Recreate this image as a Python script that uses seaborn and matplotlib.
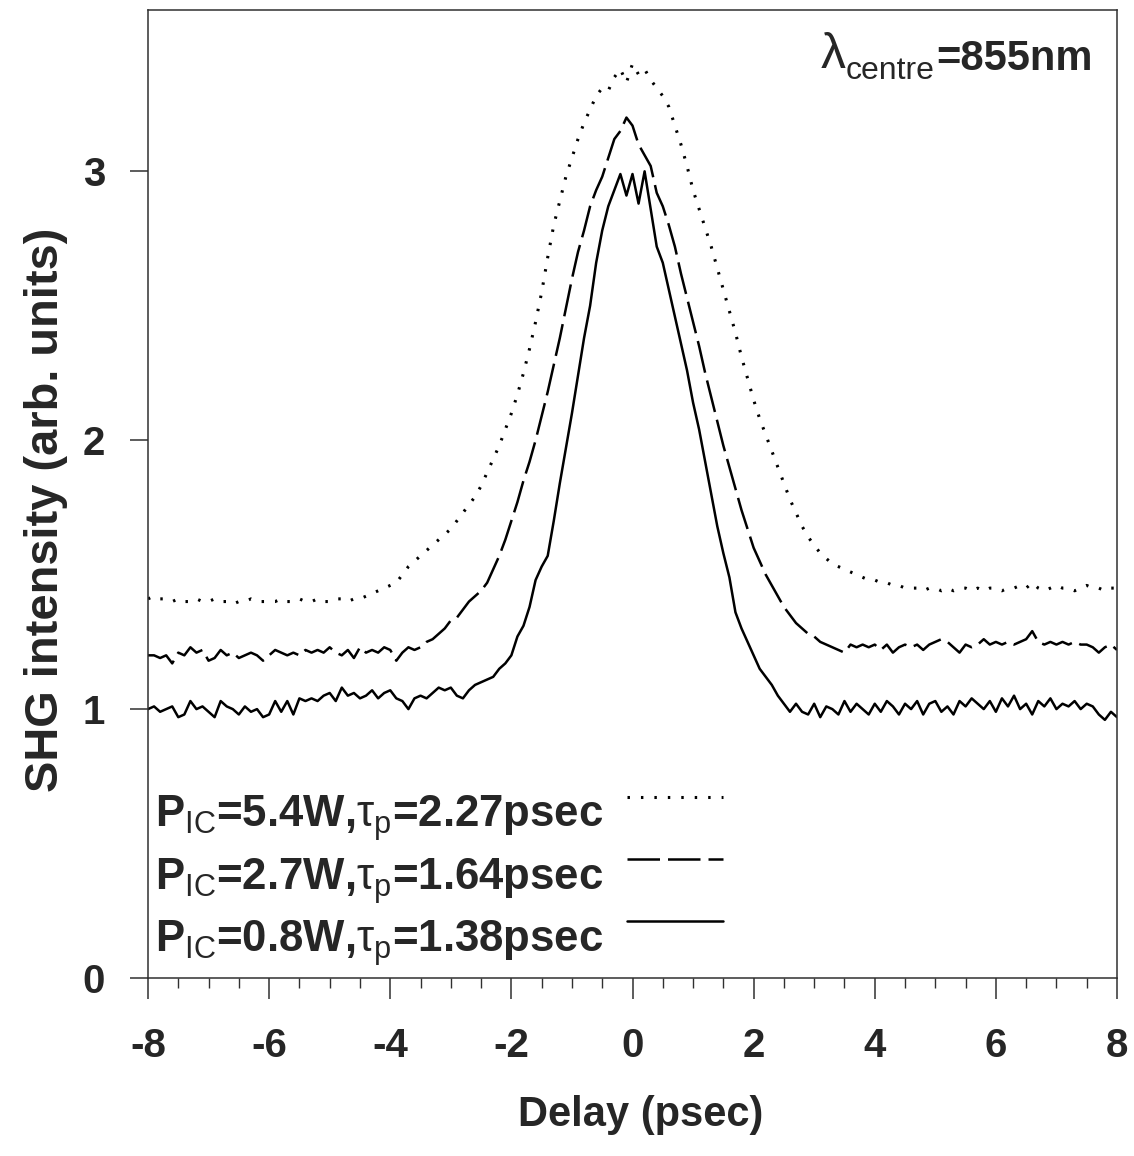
import numpy as np
import pandas as pd
import matplotlib
matplotlib.use("Agg")
import matplotlib.pyplot as plt
import seaborn as sns
from matplotlib.ticker import MultipleLocator, FixedLocator

# ---------------- data ----------------
delay = np.round(np.linspace(-8.0, 8.0, 161), 1)   # psec, sampling grid

# P_IC = 0.8 W (solid)
shg_08W = [
    1.00, 1.01, 0.99, 1.00, 1.01, 0.97, 0.98, 1.03, 1.00, 1.01,   # -8.0 .. -7.1
    0.99, 0.97, 1.03, 1.01, 1.00, 0.98, 1.01, 0.99, 1.00, 0.97,   # -7.0 .. -6.1
    0.98, 1.03, 0.99, 1.03, 0.98, 1.04, 1.03, 1.04, 1.03, 1.05,   # -6.0 .. -5.1
    1.06, 1.03, 1.08, 1.05, 1.06, 1.04, 1.05, 1.07, 1.04, 1.06,   # -5.0 .. -4.1
    1.07, 1.04, 1.03, 1.00, 1.04, 1.05, 1.04, 1.06, 1.08, 1.07,   # -4.0 .. -3.1
    1.08, 1.05, 1.04, 1.07, 1.09, 1.10, 1.11, 1.12, 1.15, 1.17,   # -3.0 .. -2.1
    1.20, 1.27, 1.31, 1.38, 1.48, 1.53, 1.57, 1.70, 1.84, 1.97,   # -2.0 .. -1.1
    2.10, 2.24, 2.38, 2.50, 2.66, 2.78, 2.87, 2.93, 2.99, 2.91,   # -1.0 .. -0.1
    2.99, 2.88, 3.00, 2.86, 2.72, 2.66, 2.56, 2.46, 2.36, 2.26,   #  0.0 ..  0.9
    2.14, 2.04, 1.92, 1.80, 1.68, 1.58, 1.49, 1.36, 1.30, 1.25,   #  1.0 ..  1.9
    1.20, 1.15, 1.12, 1.09, 1.05, 1.02, 0.99, 1.02, 0.99, 0.98,   #  2.0 ..  2.9
    1.02, 0.97, 1.01, 1.00, 0.98, 1.03, 0.99, 1.02, 1.00, 0.98,   #  3.0 ..  3.9
    1.02, 0.99, 1.03, 1.01, 0.98, 1.02, 1.00, 1.03, 0.98, 1.02,   #  4.0 ..  4.9
    1.03, 0.99, 1.01, 0.98, 1.03, 1.01, 1.04, 1.02, 1.00, 1.03,   #  5.0 ..  5.9
    0.99, 1.04, 1.01, 1.05, 1.00, 1.02, 0.98, 1.03, 1.01, 1.04,   #  6.0 ..  6.9
    1.00, 1.02, 1.01, 1.03, 1.00, 1.02, 1.01, 0.98, 0.96, 0.99,   #  7.0 ..  7.9
    0.97,                                                         #  8.0
]

# P_IC = 2.7 W (dashed)
shg_27W = [
    1.20, 1.20, 1.19, 1.20, 1.17, 1.21, 1.20, 1.23, 1.21, 1.22,
    1.18, 1.19, 1.22, 1.20, 1.21, 1.19, 1.20, 1.21, 1.20, 1.18,
    1.20, 1.22, 1.21, 1.20, 1.21, 1.20, 1.22, 1.21, 1.22, 1.21,
    1.23, 1.21, 1.20, 1.22, 1.19, 1.23, 1.21, 1.22, 1.21, 1.23,
    1.22, 1.18, 1.21, 1.23, 1.22, 1.23, 1.25, 1.26, 1.28, 1.30,
    1.33, 1.34, 1.37, 1.40, 1.42, 1.44, 1.47, 1.52, 1.57, 1.63,
    1.70, 1.77, 1.85, 1.92, 2.00, 2.09, 2.18, 2.28, 2.38, 2.49,
    2.60, 2.70, 2.78, 2.87, 2.93, 2.98, 3.05, 3.12, 3.15, 3.20,
    3.17, 3.10, 3.06, 3.02, 2.92, 2.87, 2.80, 2.72, 2.62, 2.53,
    2.44, 2.35, 2.25, 2.16, 2.07, 1.98, 1.90, 1.82, 1.74, 1.67,
    1.60, 1.55, 1.50, 1.46, 1.42, 1.38, 1.35, 1.32, 1.30, 1.28,
    1.27, 1.25, 1.24, 1.23, 1.22, 1.21, 1.24, 1.23, 1.24, 1.23,
    1.24, 1.22, 1.24, 1.21, 1.23, 1.24, 1.23, 1.24, 1.22, 1.24,
    1.25, 1.26, 1.25, 1.23, 1.21, 1.24, 1.23, 1.24, 1.26, 1.24,
    1.25, 1.24, 1.25, 1.24, 1.25, 1.26, 1.29, 1.25, 1.24, 1.25,
    1.24, 1.25, 1.24, 1.25, 1.24, 1.24, 1.23, 1.21, 1.23, 1.24,
    1.22,
]

# P_IC = 5.4 W (dotted)
shg_54W = [
    1.41, 1.42, 1.41, 1.41, 1.40, 1.41, 1.40, 1.40, 1.41, 1.40,
    1.40, 1.41, 1.40, 1.40, 1.39, 1.40, 1.40, 1.41, 1.40, 1.40,
    1.40, 1.40, 1.41, 1.40, 1.40, 1.41, 1.40, 1.40, 1.41, 1.40,
    1.40, 1.41, 1.41, 1.40, 1.41, 1.41, 1.42, 1.43, 1.44, 1.45,
    1.46, 1.47, 1.50, 1.53, 1.55, 1.57, 1.59, 1.61, 1.63, 1.65,
    1.67, 1.70, 1.73, 1.76, 1.79, 1.83, 1.88, 1.93, 1.98, 2.04,
    2.10, 2.17, 2.25, 2.34, 2.44, 2.55, 2.68, 2.80, 2.89, 2.98,
    3.05, 3.12, 3.18, 3.23, 3.28, 3.31, 3.30, 3.35, 3.38, 3.33,
    3.40, 3.36, 3.38, 3.34, 3.31, 3.28, 3.24, 3.17, 3.10, 3.02,
    2.93, 2.86, 2.79, 2.72, 2.64, 2.56, 2.48, 2.40, 2.31, 2.23,
    2.15, 2.08, 2.02, 1.96, 1.90, 1.84, 1.78, 1.73, 1.68, 1.64,
    1.61, 1.58, 1.56, 1.54, 1.53, 1.52, 1.51, 1.50, 1.49, 1.48,
    1.48, 1.47, 1.47, 1.46, 1.46, 1.45, 1.45, 1.45, 1.44, 1.45,
    1.45, 1.44, 1.45, 1.44, 1.45, 1.45, 1.44, 1.45, 1.44, 1.45,
    1.45, 1.44, 1.45, 1.45, 1.46, 1.45, 1.47, 1.45, 1.44, 1.45,
    1.46, 1.45, 1.45, 1.44, 1.45, 1.46, 1.45, 1.45, 1.44, 1.45,
    1.45,
]

series_labels = [
    r"P$_{\mathrm{IC}}$=5.4W,$\mathrm{\tau}_{\mathrm{p}}$=2.27psec",
    r"P$_{\mathrm{IC}}$=2.7W,$\mathrm{\tau}_{\mathrm{p}}$=1.64psec",
    r"P$_{\mathrm{IC}}$=0.8W,$\mathrm{\tau}_{\mathrm{p}}$=1.38psec",
]
x_ticks = [-8, -6, -4, -2, 0, 2, 4, 6, 8]
y_ticks = [0, 1, 2, 3]
wavelength_text = "=855nm"
wavelength_sub = "centre"
wavelength_sym = "λ"
x_label = "Delay (psec)"
y_label = "SHG intensity (arb. units)"

# ---------------- style ----------------
sns.set_theme(style="white")
plt.rcParams["font.family"] = ["Liberation Sans", "DejaVu Sans"]
plt.rcParams["font.weight"] = "bold"
plt.rcParams["mathtext.fontset"] = "custom"
plt.rcParams["mathtext.rm"] = "Liberation Sans:weight=normal"
plt.rcParams["mathtext.it"] = "Liberation Sans:style=italic:weight=normal"
plt.rcParams["mathtext.bf"] = "Liberation Sans:weight=bold"

fig = plt.figure(figsize=(11.34, 11.56), dpi=100)
ax = fig.add_axes([148 / 1134, 178 / 1156, 969 / 1134, 968 / 1156])

df = pd.DataFrame({
    "delay": np.concatenate([delay, delay, delay]),
    "shg": np.concatenate([shg_54W, shg_27W, shg_08W]),
    "series": np.repeat(series_labels, len(delay)),
})

styles = {
    series_labels[0]: dict(lw=2.2, dashes=(0.8, 3.6)),
    series_labels[1]: dict(lw=1.8, dashes=(13, 3.2)),
    series_labels[2]: dict(lw=1.8, dashes=None),
}
for lab in series_labels:
    sub = df[df["series"] == lab]
    sns.lineplot(data=sub, x="delay", y="shg", ax=ax, color="black",
                 lw=styles[lab]["lw"], label=lab, estimator=None, sort=False)
    line = ax.lines[-1]
    if styles[lab]["dashes"] is not None:
        line.set_dashes(styles[lab]["dashes"])

ax.set_xlim(-8, 8)
ax.set_ylim(0, 3.6)
ax.xaxis.set_major_locator(FixedLocator(x_ticks))
ax.xaxis.set_minor_locator(MultipleLocator(0.5))
ax.yaxis.set_major_locator(FixedLocator(y_ticks))
ax.set_xticklabels([str(t) for t in x_ticks])
ax.set_yticklabels([str(t) for t in y_ticks])

for s in ax.spines.values():
    s.set_linewidth(1.1)
    s.set_color("#303030")

ax.tick_params(axis="x", which="major", direction="out", length=15, width=1.1,
               color="#303030", pad=20, labelsize=29, bottom=True, top=False)
ax.tick_params(axis="x", which="minor", direction="out", length=7, width=1.0,
               color="#303030", bottom=True, top=False)
ax.tick_params(axis="y", which="major", direction="out", length=13, width=1.1,
               color="#303030", pad=18, labelsize=29, left=True, right=False)

ax.set_xlabel(x_label, fontsize=30, fontweight="bold")
ax.xaxis.set_label_coords(0.5088, -0.121)
ax.set_ylabel(y_label, fontsize=33.8, fontweight="bold")
ax.yaxis.set_label_coords(-0.083, 0.4835)

# wavelength annotation: λ (large, regular) + subscript "centre" + "=855nm"
t_main = ax.text(0.975, 0.938, wavelength_text, transform=ax.transAxes,
                 ha="right", va="baseline", fontsize=30, fontweight="bold")
t_sub = ax.annotate(wavelength_sub, xy=(0, 0), xycoords=t_main,
                    xytext=(-1, 0), textcoords="offset points",
                    ha="right", va="baseline", fontsize=23, fontweight="normal")
ax.annotate(wavelength_sym, xy=(0, 0), xycoords=t_sub,
            xytext=(-0.5, 13), textcoords="offset points",
            ha="right", va="baseline", fontsize=36, fontweight="normal")

handles, labels = ax.get_legend_handles_labels()
leg = ax.legend(handles, labels, loc="upper left", bbox_to_anchor=(0.007, 0.199),
                frameon=False, markerfirst=False, fontsize=31.5, handlelength=2.2,
                handleheight=1.55, handletextpad=0.55, labelspacing=0.1,
                borderpad=0, borderaxespad=0)
for ln in leg.get_lines():
    ln.set_ydata(np.asarray(ln.get_ydata(), dtype=float) + 7.0)

fig.savefig("out.png", dpi=100)
